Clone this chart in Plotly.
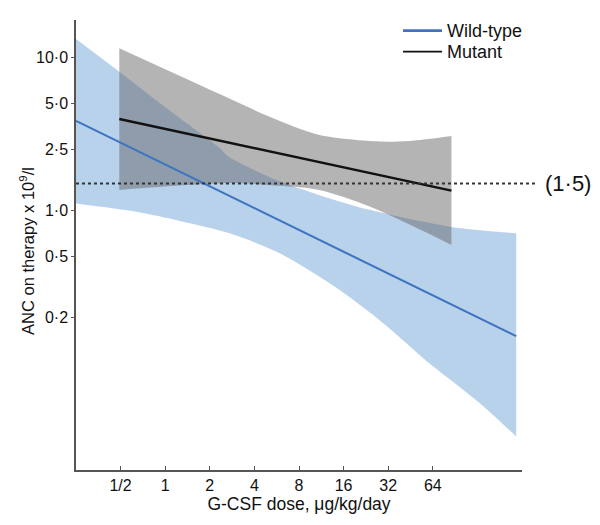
import math
import plotly.graph_objects as go

# ---------------- data ----------------
# Wild-type fitted line
wt_dose = [0.25, 0.5, 1, 2, 4, 8, 16, 32, 64, 128, 234]
wt_anc = [3.85, 2.77, 1.99, 1.44, 1.03, 0.745, 0.536, 0.386, 0.278, 0.200, 0.151]
# Wild-type confidence band
wt_upper_dose = [0.25, 0.49, 1, 2.33, 2.67, 5.65, 11, 24, 85.5, 234]
wt_upper_anc = [13.2, 8.07, 4.73, 2.56, 2.25, 1.58, 1.26, 1.01, 0.78, 0.71]
wt_lower_dose = [0.25, 0.64, 1.25, 2.72, 5.93, 12.9, 28, 61, 133, 234]
wt_lower_anc = [1.11, 0.98, 0.854, 0.71, 0.525, 0.334, 0.192, 0.100, 0.055, 0.0333]

# Mutant fitted line
mut_dose = [0.49, 1, 2, 4, 8, 16, 32, 64, 85.5]
mut_anc = [3.96, 3.41, 2.95, 2.55, 2.21, 1.91, 1.65, 1.43, 1.35]
# Mutant confidence band
mut_upper_dose = [0.49, 2.33, 5.07, 11, 28, 44.7, 85.5]
mut_upper_anc = [11.5, 5.77, 4.10, 3.11, 2.82, 2.85, 3.07]
mut_lower_dose = [0.49, 2.72, 5.93, 11, 24, 85.5]
mut_lower_anc = [1.36, 1.51, 1.45, 1.36, 1.06, 0.596]

threshold = 1.5
threshold_label = "(1·5)"

series_names = ["Wild-type", "Mutant"]

x_tickvals = [0.5, 1, 2, 4, 8, 16, 32, 64]
x_ticktext = ["1/2", "1", "2", "4", "8", "16", "32", "64"]
y_tickvals = [0.2, 0.5, 1, 2.5, 5, 10]
y_ticktext = ["0·2", "0·5", "1·0", "2·5", "5·0", "10·0"]

# ---------------- styling ----------------
FONT = "Liberation Sans, Arial, sans-serif"
BLUE_LINE = "#3f74c0"
BLUE_FILL = "rgba(100,155,212,0.45)"
GREY_FILL = "rgba(95,95,98,0.47)"
AXIS = "#555555"
TEXT = "#111111"

fig = go.Figure()

# Wild-type band
fig.add_trace(go.Scatter(x=wt_lower_dose, y=wt_lower_anc, mode="lines",
                         line=dict(width=0, shape="spline", smoothing=0.8),
                         showlegend=False, hoverinfo="skip"))
fig.add_trace(go.Scatter(x=wt_upper_dose, y=wt_upper_anc, mode="lines",
                         line=dict(width=0, shape="spline", smoothing=0.8),
                         fill="tonexty", fillcolor=BLUE_FILL,
                         showlegend=False, hoverinfo="skip"))
# Mutant band
fig.add_trace(go.Scatter(x=mut_lower_dose, y=mut_lower_anc, mode="lines",
                         line=dict(width=0, shape="spline", smoothing=0.8),
                         showlegend=False, hoverinfo="skip"))
fig.add_trace(go.Scatter(x=mut_upper_dose, y=mut_upper_anc, mode="lines",
                         line=dict(width=0, shape="spline", smoothing=0.8),
                         fill="tonexty", fillcolor=GREY_FILL,
                         showlegend=False, hoverinfo="skip"))

# Lines
fig.add_trace(go.Scatter(x=wt_dose, y=wt_anc, mode="lines", name=series_names[0],
                         line=dict(color=BLUE_LINE, width=2.1), showlegend=False))
fig.add_trace(go.Scatter(x=mut_dose, y=mut_anc, mode="lines", name=series_names[1],
                         line=dict(color=TEXT, width=2.4), showlegend=False))

# Threshold dotted line (extends slightly beyond the axis end)
fig.add_shape(type="line", xref="paper", yref="y", x0=0, x1=1.029,
              y0=threshold, y1=threshold,
              line=dict(color="#333333", width=2, dash="dot"))
fig.add_annotation(text=threshold_label, xref="paper", yref="y",
                   x=1.046, y=math.log10(threshold), xanchor="left",
                   yanchor="middle", showarrow=False,
                   font=dict(family=FONT, size=22, color=TEXT))

# Legend (drawn as line samples + text)
legend_y = [0.9762, 0.9296]
legend_colors = [BLUE_LINE, TEXT]
legend_widths = [2.8, 1.8]
for name, yy, col, lw in zip(series_names, legend_y, legend_colors, legend_widths):
    fig.add_shape(type="line", xref="paper", yref="paper",
                  x0=0.7332, x1=0.8206, y0=yy, y1=yy,
                  line=dict(color=col, width=lw))
    fig.add_annotation(text=name, xref="paper", yref="paper",
                       x=0.8270, y=yy, xanchor="left", yanchor="middle",
                       showarrow=False,
                       font=dict(family=FONT, size=18, color=TEXT))

# Y-axis title as rotated text
fig.add_annotation(text="ANC on therapy x 10<sup>9</sup>/l", xref="paper",
                   yref="paper", x=-0.110, y=0.4867, textangle=-90,
                   xanchor="center", yanchor="middle", showarrow=False,
                   font=dict(family=FONT, size=16.5, color=TEXT))

fig.update_layout(
    width=592, height=517,
    margin=dict(l=68, r=78, t=12, b=55, autoexpand=False),
    paper_bgcolor="white", plot_bgcolor="white",
    font=dict(family=FONT, size=16, color=TEXT),
    showlegend=False,
    xaxis=dict(type="log", range=[math.log10(0.25), math.log10(256)],
               tickvals=x_tickvals, ticktext=x_ticktext,
               ticks="inside", ticklen=4, tickcolor=AXIS,
               showline=True, linecolor=AXIS, linewidth=1.5,
               showgrid=False, zeroline=False, automargin=False,
               tickfont=dict(size=16),
               title=dict(text="G-CSF dose, μg/kg/day", font=dict(size=17.5),
                          standoff=2)),
    yaxis=dict(type="log", range=[-1.696, 1.245],
               tickvals=y_tickvals, ticktext=y_ticktext,
               ticks="outside", ticklen=3, tickcolor=AXIS,
               showline=True, linecolor=AXIS, linewidth=1.5,
               showgrid=False, zeroline=False, automargin=False,
               tickfont=dict(size=16)),
)

fig.write_html("out.html")
